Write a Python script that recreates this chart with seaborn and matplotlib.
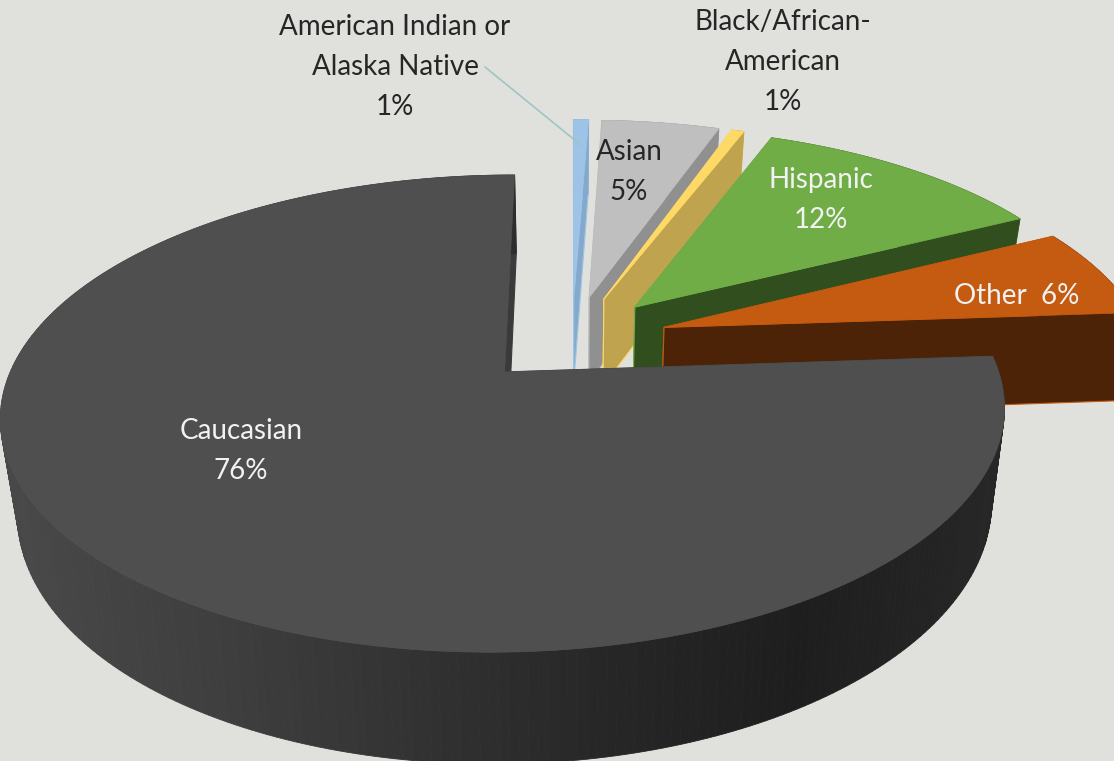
import matplotlib
matplotlib.use('Agg')
import matplotlib.pyplot as plt
import numpy as np
import seaborn as sns

# values, they add up to 100
categories = ['American Indian or\nAlaska Native', 'Asian', 'Black/African-\nAmerican', 'Hispanic', 'Other', 'Caucasian']
values = [0.6, 4.7, 0.5, 11.7, 6.4, 76.1]
pct_labels = ['1%', '5%', '1%', '12%', '6%', '76%']

top_colors = ['#9DC3E6', '#BFBFBF', '#FFD966', '#70AD47', '#C55A11', '#4F4F4F']
side_colors = ['#85A9CC', '#909090', '#BFA34F', '#314F1E', '#4C2306', '#3A3A3A']
text_colors = ['#262626', '#262626', '#262626', '#F2F2F2', '#F2F2F2', '#F2F2F2']
BG = '#E0E1DC'

# fake 3d camera, fitted by eye
CX, CY = 572, 339
RX, RY = 482, 220
PERSP = 0.17
DEPTH = 90
SQUEEZE = 0.03
EXPLODE = 0.2

sns.set_theme(style='white', rc={'figure.facecolor': BG, 'axes.facecolor': BG})
plt.rcParams['font.family'] = ['Lato', 'DejaVu Sans']


def project(u, v, z=0.0):
    w = 1 + PERSP * v
    sx = CX + RX * u / w * (1 - SQUEEZE * z)
    sy = CY - RY * v / w + DEPTH * z / w
    return sx, sy


def disc_point(theta, offset, r=1.0):
    return offset[0] + r * np.sin(theta), offset[1] + r * np.cos(theta)


fig = plt.figure(figsize=(11.14, 7.61), dpi=100)
ax = fig.add_axes([0, 0, 1, 1])
ax.set_xlim(0, 1114)
ax.set_ylim(761, 0)
ax.axis('off')

edges = np.concatenate([[0], np.cumsum(values)]) / np.sum(values) * 2 * np.pi
zo = 1
for i in range(len(values)):
    a0, a1 = edges[i], edges[i + 1]
    mid = (a0 + a1) / 2
    off = (EXPLODE * np.sin(mid), EXPLODE * np.cos(mid))
    th = np.linspace(a0, a1, max(4, int((a1 - a0) * 60)))
    uu, vv = disc_point(th, off)

    # straight side faces
    for a in (a0, a1):
        u1, v1 = disc_point(a, off)
        xa, ya = project(off[0], off[1])
        xb, yb = project(u1, v1)
        xc, yc = project(u1, v1, 1)
        xd, yd = project(off[0], off[1], 1)
        edge = top_colors[i] if i < 5 else side_colors[i]
        ax.fill([xa, xb, xc, xd], [ya, yb, yc, yd], fc=side_colors[i], ec=edge, lw=0.8, zorder=zo)
    zo += 1

    # rim, with a left to right shade on the big slice
    if i == 5:
        shades = sns.blend_palette(['#484848', '#3F3F3F', '#333333', '#272727', '#1E1E1E', '#262626'], len(th))
    else:
        shades = [side_colors[i]] * len(th)
    order = np.argsort(vv)[::-1]
    for j in range(len(th) - 1):
        xt, yt = project(uu[j:j + 2], vv[j:j + 2])
        xb, yb = project(uu[j:j + 2], vv[j:j + 2], 1)
        # shade runs along the screen x on the front of the pie
        c = shades[int(np.clip((xt[0] - 10) / 990, 0, 1) * (len(th) - 1))] if i == 5 else shades[j]
        ax.fill(np.r_[xt, xb[::-1]], np.r_[yt, yb[::-1]], fc=c, ec=c, lw=0.6, zorder=zo)
    zo += 1

    # top face
    xt, yt = project(uu, vv)
    x0, y0 = project(off[0], off[1])
    ax.fill(np.r_[x0, xt], np.r_[y0, yt], fc=top_colors[i], ec=top_colors[i], lw=0.5, zorder=zo)
    zo += 1

# leader line for the smallest slice
ax.plot([485, 582], [67, 146], color='#9CC5C5', lw=1.2, zorder=zo)
zo += 1

FS = 20
LINE = 40
label_pos = [(395, 27), (629, 152), (783, 22), (821, 180), None, (241, 431)]
for i, pos in enumerate(label_pos):
    if pos is None:
        continue
    lines = categories[i].split('\n') + [pct_labels[i]]
    for k, s in enumerate(lines):
        ax.text(pos[0], pos[1] + k * LINE, s, fontsize=FS, color=text_colors[i],
                ha='center', va='center', zorder=zo)
ax.text(1017, 296, categories[4] + '  ' + pct_labels[4], fontsize=FS, color=text_colors[4],
        ha='center', va='center', zorder=zo)

fig.savefig('out.png', dpi=100, facecolor=BG)
